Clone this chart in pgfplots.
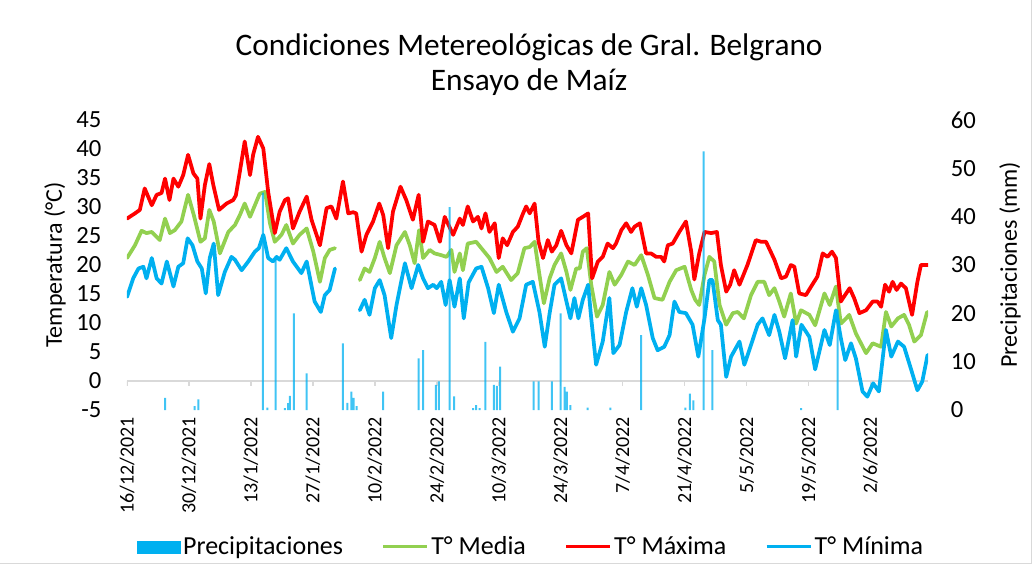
\documentclass[border=0pt]{standalone}
\usepackage{fontspec}
\setmainfont{Carlito}
\usepackage{pgfplots}
\pgfplotsset{compat=1.18}
\usepackage{pgfplotstable}
\definecolor{cred}{HTML}{FF0000}
\definecolor{cgreen}{HTML}{92D050}
\definecolor{cblue}{HTML}{00B0F0}
\definecolor{cgrid}{HTML}{D9D9D9}
\pgfplotsset{
  lineleg/.style={legend image code/.code={\draw[##1] (0pt,0pt) -- (33pt,0pt);}},
  barleg/.style={legend image code/.code={\fill[cblue] (0pt,-4.5pt) rectangle (32pt,4.5pt);}},
}

\pgfplotstableread{
d t
0 28.0
1.8 28.9
2.9 29.5
4.0 33.2
5.6 30.3
6.7 32.1
7.8 32.4
8.6 34.9
9.6 31.2
10.5 34.9
11.6 33.5
12.7 35.5
13.8 39.0
15.0 35.8
15.9 34.9
16.6 28.0
17.6 33.8
18.6 37.4
19.5 33.8
20.8 29.5
22.5 30.6
24.0 31.2
24.6 32.0
25.5 36.1
26.6 41.3
27.8 35.5
28.5 39.0
29.6 42.1
30.8 40.1
31.9 32.6
33.4 25.5
34.5 29.2
35.7 31.2
36.4 31.5
37.5 26.3
39.0 29.2
40.6 31.8
41.7 27.8
43.6 23.4
45.1 29.8
46.2 30.1
47.3 28.0
48.8 34.4
50.0 28.9
51.1 29.1
51.8 28.9
53.0 22.3
54.1 25.2
55.6 27.5
57.0 30.6
57.9 28.6
59.0 22.9
60.1 29.2
61.8 33.5
63.1 31.2
64.6 27.8
65.9 32.1
66.9 24.0
68.0 27.5
69.5 26.9
70.7 24.0
71.8 28.3
73.7 25.2
75.2 28.0
75.9 26.9
77.0 30.1
78.2 27.5
79.3 28.3
80.1 26.3
81.0 28.9
81.9 25.7
83.1 27.2
84.0 21.2
84.9 24.6
85.9 23.4
87.2 25.7
88.3 26.6
89.5 28.9
90.2 30.1
91.0 28.9
92.1 30.6
93.0 24.0
94.0 21.2
95.1 24.3
96.0 22.3
97.0 23.4
98.1 25.9
99.3 23.4
100.4 22.0
101.9 27.8
103.0 28.3
104.2 28.9
105.1 17.7
106.4 20.6
107.5 21.4
108.6 23.7
109.8 22.9
110.5 23.7
111.7 26.0
112.8 27.2
113.9 25.7
114.7 26.6
115.9 27.2
117.3 22.0
118.4 22.0
119.6 21.4
120.7 21.4
121.4 20.6
122.2 23.4
123.3 23.7
124.8 25.7
126.3 27.5
127.5 22.3
128.2 17.5
129.3 22.0
130.5 25.7
132.0 25.5
133.3 25.7
134.2 20.0
135.4 15.4
136.3 16.6
137.2 19.1
138.4 16.6
140.2 20.0
142.1 24.3
143.3 24.0
144.4 24.0
146.3 20.9
147.8 17.7
148.9 18.0
150.0 20.0
150.8 19.7
151.9 15.1
153.4 14.8
154.6 16.3
156.0 18.0
157.2 22.0
158.3 21.4
159.3 22.3
160.2 21.2
161.3 13.7
162.5 15.1
163.3 16.0
164.3 14.3
165.5 11.7
167.0 12.2
168.5 13.7
169.6 13.7
170.4 12.8
171.3 16.6
172.2 15.4
173.0 17.1
173.9 15.7
174.9 16.8
176.0 16.0
177.4 11.4
178.6 17.1
179.4 20.0
181.0 20.0
}\tmax

\pgfplotstableread{
d t
0 21.2
1.8 23.4
3.3 25.9
4.4 25.5
5.6 25.7
7.4 24.3
8.6 28.0
9.7 25.5
10.8 26.0
12.3 27.5
13.8 32.1
15.1 28.6
16.6 24.0
17.6 24.6
18.6 29.5
19.6 27.5
21.0 22.0
22.9 25.7
24.4 26.9
25.5 28.6
26.6 30.6
27.8 28.3
28.9 30.3
30.0 32.3
31.2 32.6
32.3 27.2
33.4 24.0
34.9 25.2
36.0 26.9
37.5 23.7
39.0 25.2
40.6 26.3
42.1 22.3
43.6 17.1
44.7 21.2
45.8 22.6
47.0 22.9
48.0 nan
52.6 17.4
53.7 19.4
54.8 18.8
56.0 21.2
57.1 24.0
58.2 21.2
59.4 18.6
60.9 23.4
62.8 25.7
63.9 23.4
65.0 20.3
66.0 26.0
66.9 21.2
68.4 22.6
69.5 22.0
71.0 21.7
72.2 21.4
73.3 22.6
74.0 18.8
75.2 22.0
75.9 19.1
77.0 23.7
78.9 24.0
80.4 22.6
81.9 21.2
83.5 18.8
84.9 19.7
86.8 17.4
88.3 18.6
89.8 22.9
91.0 23.1
92.1 24.0
93.2 18.3
94.2 13.4
95.5 17.7
96.6 20.0
98.1 22.0
99.3 18.8
100.2 15.7
101.5 19.4
102.3 19.4
103.0 22.3
103.9 22.9
104.9 16.6
106.2 11.1
107.5 13.1
109.0 18.8
110.2 16.6
111.7 18.3
113.2 20.6
114.7 20.0
116.2 21.7
117.7 18.3
119.2 14.3
121.0 14.0
122.6 17.1
124.1 19.1
126.0 19.7
127.5 15.7
128.4 14.0
129.3 13.1
130.5 18.3
131.6 21.4
132.7 20.6
133.9 13.1
135.4 9.7
136.9 11.7
138.0 11.9
139.4 10.8
141.0 14.8
142.5 17.1
144.0 17.1
145.1 14.8
146.3 16.0
147.4 13.7
148.5 11.1
150.0 15.1
151.2 9.9
152.3 12.2
154.2 11.4
155.5 9.6
157.6 15.1
158.8 13.1
160.2 16.3
161.3 9.9
162.5 10.8
163.2 11.4
164.7 8.2
167.0 4.8
168.5 6.5
170.4 5.9
171.5 11.9
172.7 9.4
174.2 10.8
175.6 11.4
176.7 9.7
177.9 6.8
179.4 7.9
180.8 11.9
}\tmed

\pgfplotstableread{
d t
0 14.5
1.4 17.7
2.6 19.4
3.7 19.7
4.4 17.7
5.6 21.2
6.7 17.7
7.8 16.8
9.0 20.6
10.5 16.3
11.6 19.7
12.7 20.3
13.7 24.6
14.8 23.4
15.9 20.6
16.9 19.4
17.8 15.1
18.7 21.2
19.6 23.7
20.6 14.8
22.1 18.8
23.6 21.4
24.4 20.9
25.9 19.1
27.4 20.6
28.9 22.3
29.8 22.9
30.8 25.2
31.9 21.2
33.0 20.6
33.8 21.4
34.5 20.9
36.0 22.9
37.5 20.6
39.4 18.6
40.6 20.6
42.4 13.7
43.8 11.9
44.7 14.8
45.8 15.7
47.0 19.4
48.0 nan
52.6 12.2
53.7 14.0
54.8 11.4
56.0 16.0
57.1 17.4
58.2 14.8
59.7 7.4
60.9 13.1
62.8 20.3
64.3 16.0
65.8 20.0
66.9 17.7
68.0 16.0
69.2 16.6
70.0 16.0
71.0 17.1
72.0 13.1
72.9 17.4
74.0 12.8
75.2 17.7
76.1 10.8
77.2 17.0
78.9 19.4
80.1 19.7
81.6 16.0
82.9 11.7
84.0 16.6
85.7 11.9
87.2 8.5
88.7 10.8
90.2 16.6
91.7 17.1
93.2 11.9
94.4 5.9
95.5 11.7
96.6 16.6
98.1 17.7
99.3 13.7
100.2 10.8
101.1 14.3
102.0 10.8
103.0 14.0
104.2 16.6
104.9 10.8
106.0 2.8
107.5 6.8
109.0 14.3
109.9 4.8
111.3 6.2
112.8 11.9
114.2 16.0
115.2 12.8
116.2 16.0
117.3 13.1
118.8 7.4
119.9 5.3
121.4 5.9
122.6 7.9
123.7 13.7
124.8 11.9
126.3 11.7
127.8 9.7
129.1 4.2
130.5 10.8
131.6 17.4
132.3 17.4
133.5 10.5
134.2 9.7
135.4 0.7
136.5 4.2
138.4 6.8
139.5 2.8
141.0 6.2
142.5 9.7
143.6 10.8
145.1 7.9
146.3 11.4
147.4 8.5
148.7 3.9
150.4 10.5
151.2 4.2
152.4 9.7
154.2 7.6
155.5 2.0
157.6 8.8
158.8 6.2
160.2 12.2
161.3 7.4
162.3 3.6
163.6 6.5
164.7 3.9
166.2 -1.8
167.3 -2.7
168.6 -0.4
169.9 -1.8
171.5 8.8
172.7 4.2
174.2 6.8
175.6 5.9
177.1 2.2
178.6 -1.6
179.7 -0.1
180.9 4.5
}\tmin

\pgfplotstableread{
d p
8.6 2.5
15.3 0.8
16.1 2.2
30.7 45.0
31.7 0.5
33.6 31.0
35.7 0.4
36.4 1.4
36.8 2.9
37.7 20.0
40.6 7.6
48.8 13.8
49.8 1.5
50.7 3.8
51.2 2.5
51.9 0.8
57.9 3.8
65.9 10.7
66.9 12.4
69.8 5.2
70.5 5.9
72.9 42.0
73.9 2.8
78.2 0.4
78.9 1.0
79.7 0.4
81.0 14.1
82.9 5.2
83.6 5.0
84.3 9.0
91.9 5.9
93.0 5.9
96.0 5.9
98.0 20.0
98.9 4.8
99.4 3.8
100.2 1.0
104.1 0.5
109.2 0.5
116.2 15.5
126.2 0.5
127.2 3.4
128.0 2.0
130.3 53.5
132.3 12.4
152.3 0.4
160.6 20.7
}\prec

\begin{document}
\begin{tikzpicture}
\useasboundingbox (-95.25pt,-117.75pt) rectangle (680.25pt,307.5pt);
\draw[cgrid, line width=0.75pt] (678pt,307.5pt) -- (678pt,-114.75pt) -- (-95.25pt,-114.75pt);
\begin{axis}[
  scale only axis, width=600.75pt, height=217.5pt,
  xmin=0, xmax=181, ymin=-5, ymax=45,
  ytick={-5,0,...,45},
  xtick={0,14,...,168},
  xticklabels={16/12/2021,30/12/2021,13/1/2022,27/1/2022,10/2/2022,24/2/2022,10/3/2022,24/3/2022,7/4/2022,21/4/2022,5/5/2022,19/5/2022,2/6/2022},
  axis line style={draw=none}, major tick length=0pt,
  /pgf/number format/assume math mode=true,
  xticklabel style={yshift=-5pt, rotate=90, anchor=east, inner sep=0pt, font=\fontsize{15}{18}\selectfont},
  yticklabel style={anchor=east, inner sep=0pt, xshift=-19pt, font=\fontsize{18.5}{21}\selectfont},
  ylabel={Temperatura (°C)},
  ylabel style={at={(axis description cs:-0.0899,0.5)}, anchor=center, font=\fontsize{18}{21}\selectfont},
  title={Condiciones Metereológicas de Gral. Belgrano\\Ensayo de Maíz},
  title style={at={(axis description cs:0.502,1.163)}, anchor=center, align=center, font=\fontsize{23.5}{26}\selectfont},
  unbounded coords=jump,
  every axis plot/.append style={line width=2.8pt, line join=round, line cap=round},
]
\draw[cgrid, line width=1.2pt] (axis cs:0,0) -- (axis cs:181,0);
\draw[cgrid, line width=1.2pt] (axis cs:0,0) -- ++(0pt,-4pt);
\draw[cgrid, line width=1.2pt] (axis cs:14,0) -- ++(0pt,-4pt);
\draw[cgrid, line width=1.2pt] (axis cs:28,0) -- ++(0pt,-4pt);
\draw[cgrid, line width=1.2pt] (axis cs:42,0) -- ++(0pt,-4pt);
\draw[cgrid, line width=1.2pt] (axis cs:56,0) -- ++(0pt,-4pt);
\draw[cgrid, line width=1.2pt] (axis cs:70,0) -- ++(0pt,-4pt);
\draw[cgrid, line width=1.2pt] (axis cs:84,0) -- ++(0pt,-4pt);
\draw[cgrid, line width=1.2pt] (axis cs:98,0) -- ++(0pt,-4pt);
\draw[cgrid, line width=1.2pt] (axis cs:112,0) -- ++(0pt,-4pt);
\draw[cgrid, line width=1.2pt] (axis cs:126,0) -- ++(0pt,-4pt);
\draw[cgrid, line width=1.2pt] (axis cs:140,0) -- ++(0pt,-4pt);
\draw[cgrid, line width=1.2pt] (axis cs:154,0) -- ++(0pt,-4pt);
\draw[cgrid, line width=1.2pt] (axis cs:168,0) -- ++(0pt,-4pt);
\addplot[cgreen] table[x=d,y=t] {\tmed};
\addplot[cred] table[x=d,y=t] {\tmax};
\addplot[cblue] table[x=d,y=t] {\tmin};
\end{axis}
\begin{axis}[
  scale only axis, width=600.75pt, height=217.5pt,
  xmin=0, xmax=181, ymin=0, ymax=60,
  axis x line=none, axis y line*=right,
  axis line style={draw=none}, major tick length=0pt,
  ytick={0,10,...,60},
  /pgf/number format/assume math mode=true,
  yticklabel style={anchor=west, inner sep=0pt, xshift=17pt, font=\fontsize{18.5}{21}\selectfont},
  ylabel={Precipitaciones (mm)},
  ylabel style={at={(axis description cs:1.1024,0.5)}, anchor=center, rotate=0, font=\fontsize{18}{21}\selectfont},
  legend columns=4,
  legend style={draw=none, at={(0.505,-0.472)}, anchor=center, inner sep=0pt,
    font=\fontsize{19.5}{22}\selectfont,
    /tikz/every even column/.append style={column sep=27pt}},
]
\addplot[ybar, bar width=1.5pt, fill=cblue, fill opacity=0.75, draw=none, forget plot] table[x=d,y=p] {\prec};
\addlegendimage{barleg}
\addlegendentry{Precipitaciones}
\addlegendimage{cgreen, line width=2.2pt, lineleg}
\addlegendentry{T° Media}
\addlegendimage{cred, line width=2.2pt, lineleg}
\addlegendentry{T° Máxima}
\addlegendimage{cblue, line width=2.2pt, lineleg}
\addlegendentry{T° Mínima}
\end{axis}
\end{tikzpicture}
\end{document}
